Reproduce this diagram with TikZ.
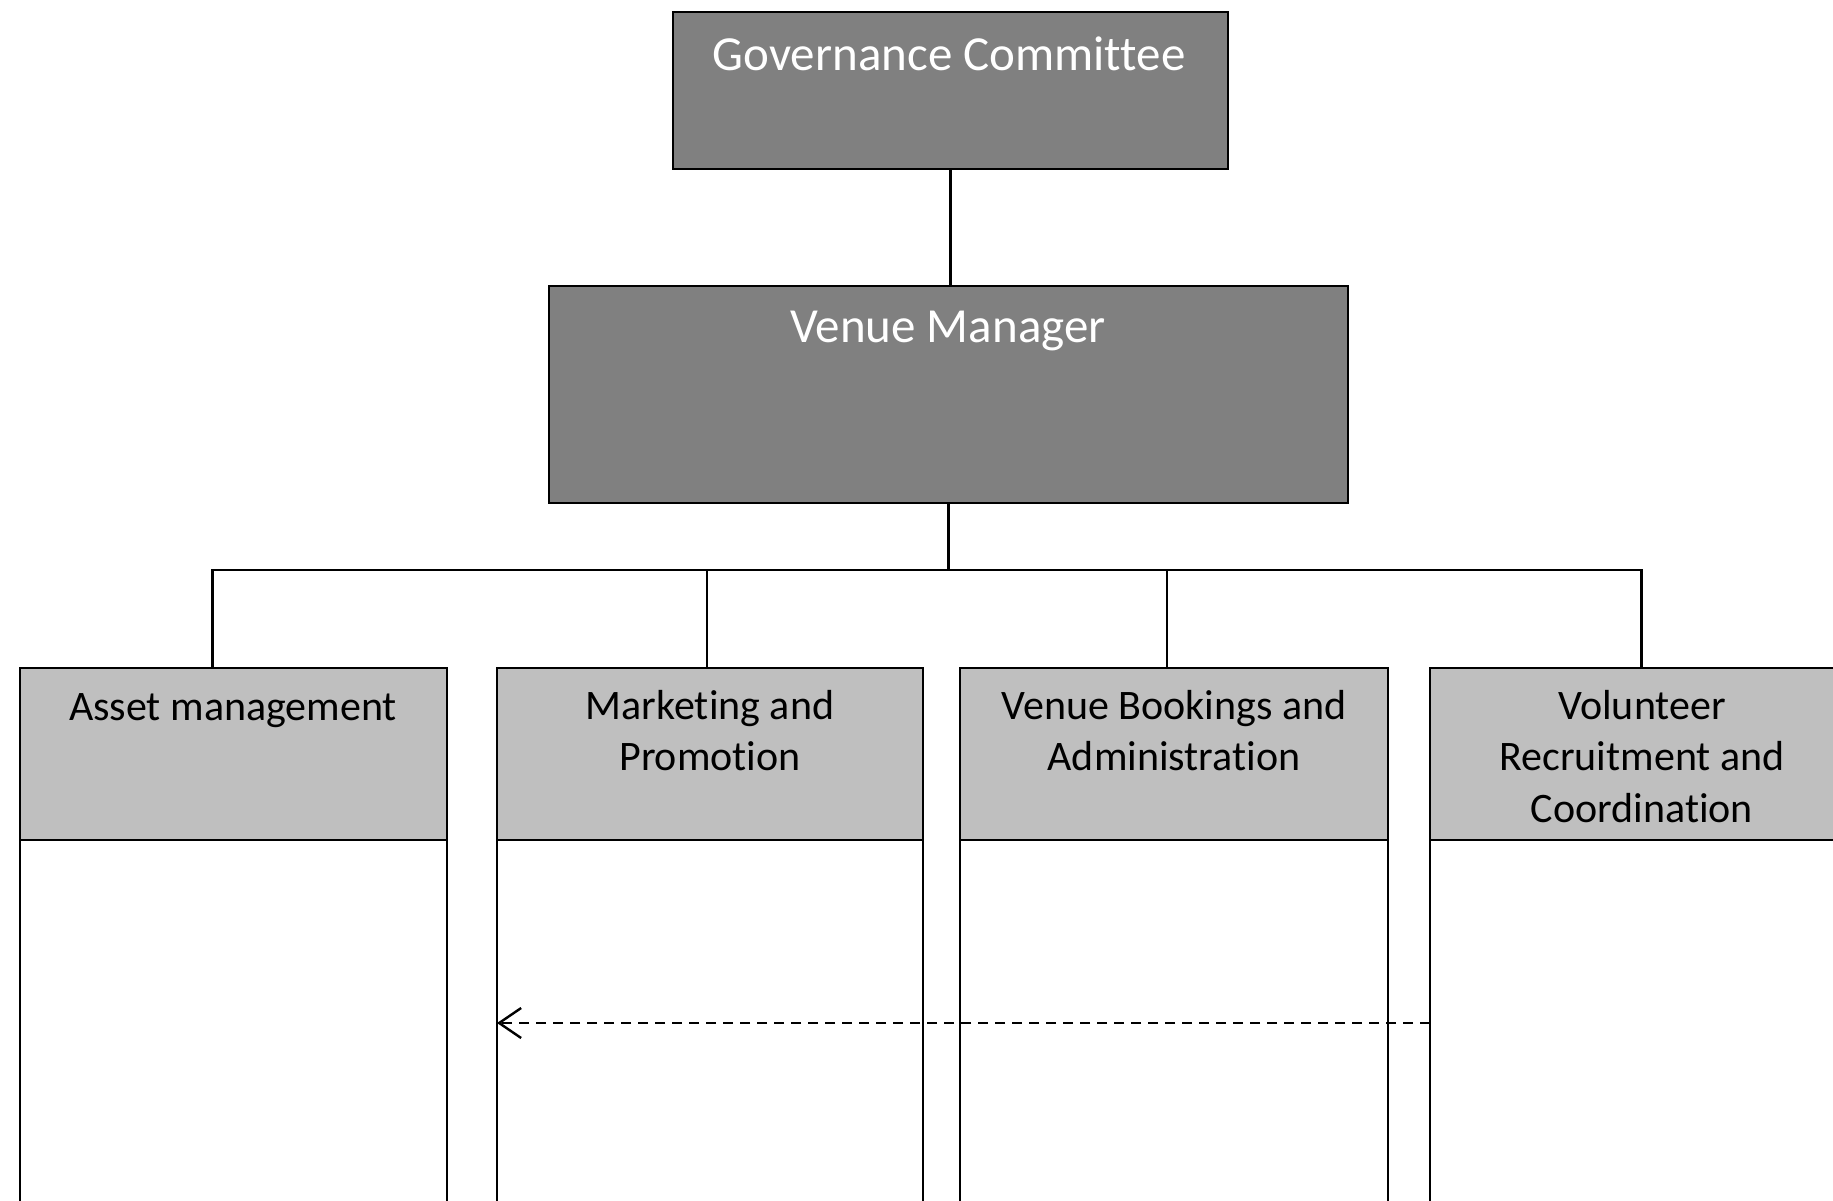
\documentclass[tikz,border=0pt]{standalone}
\usepackage{fontspec}
\setmainfont{Carlito}[Ligatures=NoCommon]
\usetikzlibrary{arrows.meta}
\definecolor{darkbox}{RGB}{128,128,128}
\definecolor{lightbox}{RGB}{191,191,191}
\begin{document}
\begin{tikzpicture}[x=1pt,y=-1pt,
  box/.style={draw=black, line width=2.6pt, inner sep=0pt, outer sep=0pt, anchor=north west},
  topbox/.style={box, fill=darkbox},
  headbox/.style={box, fill=lightbox, minimum height=172pt},
  bodybox/.style={box, fill=white, minimum height=430pt},
  toptext/.style={anchor=north, inner sep=0pt, align=center, text=white,
    font=\fontsize{49}{59}\selectfont, execute at begin node=\strut},
  headtext/.style={anchor=north, inner sep=0pt, align=center, text=black,
    font=\fontsize{42}{51.5}\selectfont, execute at begin node=\strut},
  conn/.style={draw=black, line width=2.5pt},
  dasharrow/.style={draw=black, line width=2.6pt, dash pattern=on 10pt off 7pt,
    -{Straight Barb[length=22pt,width=30pt,line width=2.4pt]}}
]
\useasboundingbox (0,0) rectangle (1833,1200);
\fill[white] (0,0) rectangle (1833,1200);
\clip (0,0) rectangle (1833,1200);

% top boxes
\node[topbox, minimum width=555pt, minimum height=157pt] (gov) at (673,12) {};
\node[topbox, minimum width=799pt, minimum height=217pt] (vm) at (549,286) {};

% department headers
\node[headbox, minimum width=427pt] (ahead) at (20,668) {};
\node[headbox, minimum width=426pt] (mhead) at (497,668) {};
\node[headbox, minimum width=428pt] (bhead) at (960,668) {};
\node[headbox, minimum width=427pt] (vhead) at (1430,668) {};

% department bodies
\node[bodybox, minimum width=427pt] (abody) at (20,840) {};
\node[bodybox, minimum width=426pt] (mbody) at (497,840) {};
\node[bodybox, minimum width=428pt] (bbody) at (960,840) {};
\node[bodybox, minimum width=427pt] (vbody) at (1430,840) {};

% texts
\node[toptext] (govt) at (949,29) {Governance Committee};
\node[toptext] (vmt) at (948,301) {Venue Manager};
\node[headtext] (at) at (233,684) {Asset management};
\node[headtext] (mt) at (710,690) {Marketing and\\Promotion};
\node[headtext] (bt) at (1174,690) {Venue Bookings and\\Administration};
\node[headtext] (vt) at (1642,690) {Volunteer\\Recruitment and\\Coordination};

% connector anchor points
\coordinate (bus) at (0,570);
\coordinate (arrowy) at (0,1023);
\coordinate (adrop) at ([xshift=-21pt]ahead.north);
\coordinate (mdrop) at ([xshift=-3pt]mhead.north);
\coordinate (bdrop) at ([xshift=-7pt]bhead.north);
\coordinate (vdrop) at ([xshift=-2pt]vhead.north);

\draw[conn] (gov.south) -- (gov.south |- vm.north);
\draw[conn] (vm.south) -- (vm.south |- bus);
\draw[conn] (adrop) |- (bus -| vdrop) -- (vdrop);
\draw[conn] (mdrop) -- (mdrop |- bus);
\draw[conn] (bdrop) -- (bdrop |- bus);

\draw[dasharrow] (vbody.west |- arrowy) -- (mbody.west |- arrowy);
\end{tikzpicture}
\end{document}
